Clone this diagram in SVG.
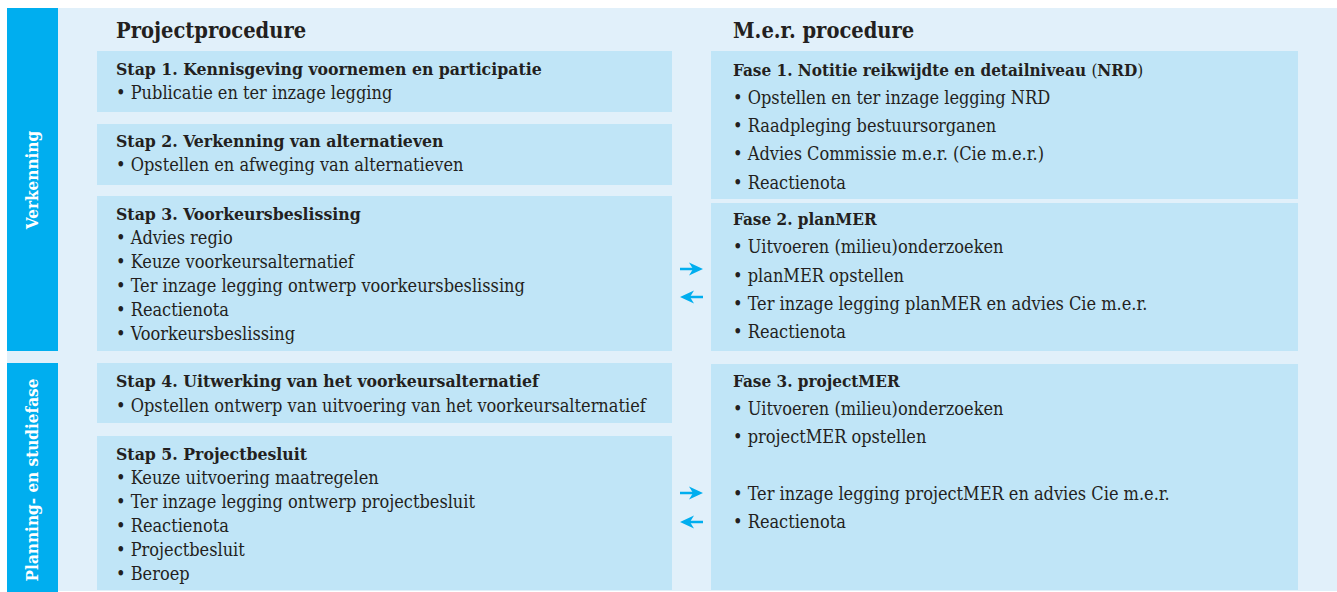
<svg xmlns="http://www.w3.org/2000/svg" width="1337" height="592" viewBox="0 0 1337 592">
<style>
.bg{fill:#E1F0FA}
.side{fill:#00AEEF}
.box{fill:#C0E5F7}
text{font-family:"DejaVu Serif Condensed","DejaVu Serif","Liberation Serif",serif;fill:#231F20}
.h{font-size:21.7px;font-weight:bold}
.t{font-size:17.5px;font-weight:bold}
.tr{font-size:17px;font-weight:bold}
.n{font-weight:normal}
.b{font-size:18px}
.s{font-size:17px;font-weight:bold;fill:#FFFFFF}
.arr{fill:#00AEEF}
.shaft{stroke:#00AEEF;stroke-width:2.5}
</style>
<rect class="bg" x="7" y="8" width="1330" height="583"/>
<g id="phase-verkenning">
<rect class="side" x="7" y="8" width="51" height="343"/>
<text class="s" transform="translate(38,180) rotate(-90)" text-anchor="middle">Verkenning</text>
</g>
<g id="phase-planning">
<rect class="side" x="7" y="363" width="51" height="229"/>
<text class="s" transform="translate(38,480) rotate(-90)" text-anchor="middle">Planning- en studiefase</text>
</g>
<g id="header-left"><text class="h" x="116" y="38">Projectprocedure</text></g>
<g id="header-right"><text class="h" x="733" y="38">M.e.r. procedure</text></g>
<g id="stap1">
<rect class="box" x="97" y="51" width="575" height="61"/>
<text class="t" x="116" y="75">Stap 1. Kennisgeving voornemen en participatie</text>
<text class="b" x="116" y="99">• Publicatie en ter inzage legging</text>
</g>
<g id="stap2">
<rect class="box" x="97" y="124" width="575" height="61"/>
<text class="t" x="116" y="147">Stap 2. Verkenning van alternatieven</text>
<text class="b" x="116" y="171">• Opstellen en afweging van alternatieven</text>
</g>
<g id="stap3">
<rect class="box" x="97" y="196" width="575" height="155"/>
<text class="t" x="116" y="220">Stap 3. Voorkeursbeslissing</text>
<text class="b" x="116" y="244">• Advies regio</text>
<text class="b" x="116" y="268">• Keuze voorkeursalternatief</text>
<text class="b" x="116" y="292">• Ter inzage legging ontwerp voorkeursbeslissing</text>
<text class="b" x="116" y="316">• Reactienota</text>
<text class="b" x="116" y="340">• Voorkeursbeslissing</text>
</g>
<g id="stap4">
<rect class="box" x="97" y="363" width="575" height="60"/>
<text class="t" x="116" y="387">Stap 4. Uitwerking van het voorkeursalternatief</text>
<text class="b" x="116" y="412">• Opstellen ontwerp van uitvoering van het voorkeursalternatief</text>
</g>
<g id="stap5">
<rect class="box" x="97" y="436" width="575" height="154"/>
<text class="t" x="116" y="460">Stap 5. Projectbesluit</text>
<text class="b" x="116" y="484">• Keuze uitvoering maatregelen</text>
<text class="b" x="116" y="508">• Ter inzage legging ontwerp projectbesluit</text>
<text class="b" x="116" y="532">• Reactienota</text>
<text class="b" x="116" y="556">• Projectbesluit</text>
<text class="b" x="116" y="580">• Beroep</text>
</g>
<g id="fase1">
<rect class="box" x="711" y="51" width="587" height="148"/>
<text class="tr" x="733" y="76">Fase 1. Notitie reikwijdte en detailniveau <tspan class="n">(</tspan>NRD<tspan class="n">)</tspan></text>
<text class="b" x="733" y="104">• Opstellen en ter inzage legging NRD</text>
<text class="b" x="733" y="132">• Raadpleging bestuursorganen</text>
<text class="b" x="733" y="160">• Advies Commissie m.e.r. (Cie m.e.r.)</text>
<text class="b" x="733" y="189">• Reactienota</text>
</g>
<g id="fase2">
<rect class="box" x="711" y="203" width="587" height="148"/>
<text class="tr" x="733" y="225">Fase 2. planMER</text>
<text class="b" x="733" y="253">• Uitvoeren (milieu)onderzoeken</text>
<text class="b" x="733" y="282">• planMER opstellen</text>
<text class="b" x="733" y="310">• Ter inzage legging planMER en advies Cie m.e.r.</text>
<text class="b" x="733" y="338">• Reactienota</text>
</g>
<g id="fase3">
<rect class="box" x="711" y="364" width="587" height="226"/>
<text class="tr" x="733" y="387">Fase 3. projectMER</text>
<text class="b" x="733" y="415">• Uitvoeren (milieu)onderzoeken</text>
<text class="b" x="733" y="443">• projectMER opstellen</text>
<text class="b" x="733" y="500">• Ter inzage legging projectMER en advies Cie m.e.r.</text>
<text class="b" x="733" y="528">• Reactienota</text>
</g>
<g id="connectors">
<line class="shaft" x1="680" y1="269" x2="694" y2="269"/>
<path class="arr" d="M703,269 L689,262.5 L693,269 L689,275.5 Z"/>
<line class="shaft" x1="689" y1="297" x2="703" y2="297"/>
<path class="arr" d="M680,297 L694,290.5 L690,297 L694,303.5 Z"/>
<line class="shaft" x1="680" y1="493" x2="694" y2="493"/>
<path class="arr" d="M703,493 L689,486.5 L693,493 L689,499.5 Z"/>
<line class="shaft" x1="689" y1="522" x2="703" y2="522"/>
<path class="arr" d="M680,522 L694,515.5 L690,522 L694,528.5 Z"/>
</g>
</svg>
